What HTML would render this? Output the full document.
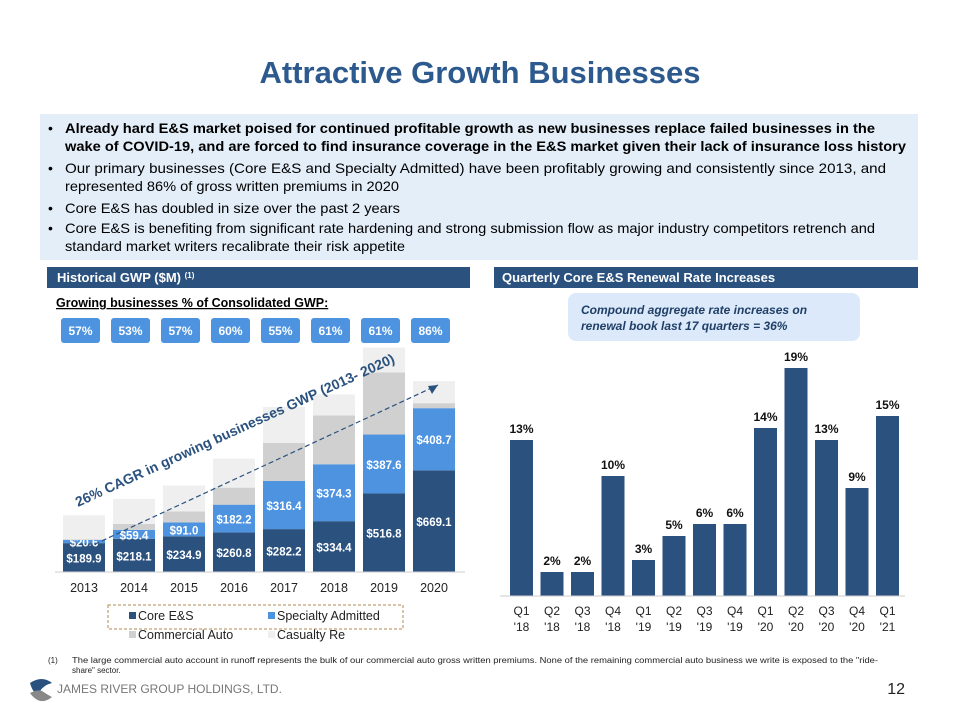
<!DOCTYPE html>
<html><head><meta charset="utf-8"><style>
body{margin:0;background:#fff;font-family:"Liberation Sans",Arial,sans-serif;}
svg text{font-family:"Liberation Sans",Arial,sans-serif;}
</style></head><body>
<svg id="s" width="960" height="720" viewBox="0 0 960 720" xmlns="http://www.w3.org/2000/svg">
<text x="480" y="83" text-anchor="middle" font-size="31" font-weight="bold" fill="#2d5a8e">Attractive Growth Businesses</text>
<rect x="40" y="114" width="878" height="146" fill="#e3eef9"/>
<g font-size="14" fill="#000">
<text x="48" y="133">•</text><text x="65" y="133" font-weight="bold" textLength="810" lengthAdjust="spacingAndGlyphs">Already hard E&amp;S market poised for continued profitable growth as new businesses replace failed businesses in the</text>
<text x="65" y="151" font-weight="bold" textLength="841" lengthAdjust="spacingAndGlyphs">wake of COVID-19, and are forced to find insurance coverage in the E&amp;S market given their lack of insurance loss history</text>
<text x="48" y="173">•</text><text x="65" y="173" textLength="821" lengthAdjust="spacingAndGlyphs">Our primary businesses (Core E&amp;S and Specialty Admitted) have been profitably growing and consistently since 2013, and</text>
<text x="65" y="191" textLength="334" lengthAdjust="spacingAndGlyphs">represented 86% of gross written premiums in 2020</text>
<text x="48" y="213">•</text><text x="65" y="213" textLength="335" lengthAdjust="spacingAndGlyphs">Core E&amp;S has doubled in size over the past 2 years</text>
<text x="48" y="233">•</text><text x="65" y="233" textLength="810" lengthAdjust="spacingAndGlyphs">Core E&amp;S is benefiting from significant rate hardening and strong submission flow as major industry competitors retrench and</text>
<text x="65" y="251" textLength="340" lengthAdjust="spacingAndGlyphs">standard market writers recalibrate their risk appetite</text>
</g>
<rect x="47" y="267" width="423" height="21" fill="#2b527f"/>
<text x="57" y="282" font-size="13" font-weight="bold" fill="#fff">Historical GWP ($M) <tspan font-size="8" dy="-4">(1)</tspan></text>
<rect x="494" y="267" width="424" height="21" fill="#2b527f"/>
<text x="502" y="282" font-size="13" font-weight="bold" fill="#fff">Quarterly Core E&amp;S Renewal Rate Increases</text>
<text x="56" y="307" font-size="12.5" font-weight="bold" text-decoration="underline" fill="#000">Growing businesses % of Consolidated GWP:</text>
<g id="pills"></g>
<rect x="568" y="293" width="292" height="48" rx="8" fill="#dbe9fa"/>
<text x="581" y="314" font-size="12" font-weight="bold" font-style="italic" fill="#1f3f66"><tspan x="581">Compound aggregate rate increases on</tspan><tspan x="581" dy="16">renewal book last 17 quarters = 36%</tspan></text>
<g id="left"></g>
<g id="right"></g>
<line x1="80" y1="551" x2="438" y2="385" stroke="#2b527f" stroke-width="1.2" stroke-dasharray="5,3"/>
<polygon points="438,385 428,386 432,394" fill="#2b527f"/>
<text transform="translate(78,507) rotate(-24.5)" font-size="14" font-weight="bold" fill="#2b527f">26% CAGR in growing businesses GWP (2013- 2020)</text>
<rect x="108" y="605" width="295" height="24" fill="none" stroke="#b08a50" stroke-dasharray="3,2"/>
<g font-size="12.5" fill="#222">
<rect x="129" y="612" width="7" height="7" fill="#2b527f"/><text x="138" y="620">Core E&amp;S</text>
<rect x="268" y="612" width="7" height="7" fill="#4d93e0"/><text x="277" y="620">Specialty Admitted</text>
<rect x="129" y="631" width="7" height="7" fill="#d0d0d0"/><text x="138" y="639">Commercial Auto</text>
<rect x="268" y="631" width="7" height="7" fill="#efefef"/><text x="277" y="639">Casualty Re</text>
</g>
<text x="48" y="663" font-size="8" fill="#222"><tspan x="48">(1)</tspan><tspan x="72" textLength="806" lengthAdjust="spacingAndGlyphs">The large commercial auto account in runoff represents the bulk of our commercial auto gross written premiums. None of the remaining commercial auto business we write is exposed to the "ride-</tspan><tspan x="72" dy="10">share" sector.</tspan></text>
<g>
<path d="M30,683 q12,-8 22,0 q-8,2 -12,8 q-6,6 -10,-8z" fill="#2b527f"/>
<path d="M30,693 q8,-4 12,-2 q6,4 10,6 q-12,10 -22,-4z" fill="#888"/>
<text x="57" y="693" font-size="12" fill="#777" font-family="Liberation Serif,serif">JAMES RIVER GROUP HOLDINGS, LTD.</text>
</g>
<text x="905" y="694" font-size="16" fill="#222" text-anchor="end">12</text>
</svg>
<script>
const NS="http://www.w3.org/2000/svg";
const years=["2013","2014","2015","2016","2017","2018","2019","2020"];
const coreES=[189.9,218.1,234.9,260.8,282.2,334.4,516.8,669.1];
const specialty=[20.6,59.4,91.0,182.2,316.4,374.3,387.6,408.7];
const commAuto=[5,39,72,112,250,322,408,33];
const casualtyRe=[158,164,171,191,237,138,164,145];
const sharePct=["57%","53%","57%","60%","55%","61%","61%","86%"];
const quarters=["Q1|'18","Q2|'18","Q3|'18","Q4|'18","Q1|'19","Q2|'19","Q3|'19","Q4|'19","Q1|'20","Q2|'20","Q3|'20","Q4|'20","Q1|'21"];
const rates=[13,2,2,10,3,5,6,6,14,19,13,9,15];
function mk(t,a,p){const e=document.createElementNS(NS,t);for(const k in a)e.setAttribute(k,a[k]);p.appendChild(e);return e;}
const L=document.getElementById('left'),P=document.getElementById('pills');
const lBase=572,lScale=0.152;
const lx=i=>63+i*50,ly=v=>v*lScale;
years.forEach((y,i)=>{
  let acc=0;
  const segs=[[coreES[i],"#2b527f","core"],[specialty[i],"#4d93e0","specialty"],[commAuto[i],"#d0d0d0","auto"],[casualtyRe[i],"#efefef","casualty"]];
  segs.forEach((s,j)=>{
    const h=ly(s[0]);
    const r=mk('rect',{x:lx(i),y:lBase-ly(acc)-h,width:42,height:h,fill:s[1]},L);
    
    
    if(j<2){
      const t=mk('text',{x:lx(i)+21,y:lBase-ly(acc)-h/2+5,'text-anchor':'middle','font-size':'11.5','font-weight':'bold',fill:'#fff'},L);
      t.textContent='$'+s[0].toFixed(1);
      
      
    }
    acc+=s[0];
  });
  const t=mk('text',{x:lx(i)+21,y:592,'text-anchor':'middle','font-size':'12.5',fill:'#222'},L);
  t.textContent=y;
  
  
  const p=mk('rect',{x:61+i*50,y:318,width:39,height:25,rx:3,fill:'#4d93e0'},P);
  
  
  const pt=mk('text',{x:80.5+i*50,y:335,'text-anchor':'middle','font-size':'12','font-weight':'bold',fill:'#fff'},P);
  pt.textContent=sharePct[i];
  
  
});
const ax=mk('line',{x1:55,y1:lBase,x2:465,y2:lBase,stroke:'#ccc'},L);


const R=document.getElementById('right');
const rBase=596,rScale=12;
const rx=i=>510+i*30.5,ry=v=>v*rScale;
rates.forEach((v,i)=>{
  const r=mk('rect',{x:rx(i),y:rBase-ry(v),width:23,height:ry(v),fill:'#2b527f'},R);
  
  
  const t=mk('text',{x:rx(i)+11.5,y:rBase-ry(v)-7,'text-anchor':'middle','font-size':'12','font-weight':'bold',fill:'#111','font-family':'Liberation Serif,serif'},R);
  t.textContent=v+'%';
  
  
  const parts=quarters[i].split('|');
  const q=mk('text',{x:rx(i)+11.5,y:615,'text-anchor':'middle','font-size':'12',fill:'#222'},R);
  q.textContent=parts[0];
  
  
  const yy=mk('text',{x:rx(i)+11.5,y:631,'text-anchor':'middle','font-size':'12',fill:'#222'},R);
  yy.textContent=parts[1];
  
  
});
const ax2=mk('line',{x1:500,y1:rBase,x2:905,y2:rBase,stroke:'#ccc'},R);


</script>
</body></html>
